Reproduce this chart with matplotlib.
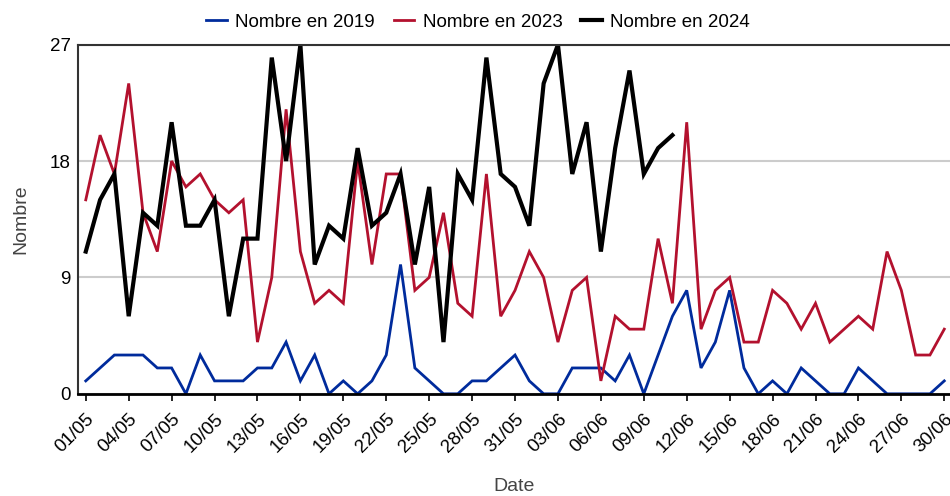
"""Nombre par jour, mai-juin: 2019 / 2023 / 2024"""

import matplotlib.pyplot as plt

# === DATA ===
TICK_LABELS = [
    "01/05", "04/05", "07/05", "10/05", "13/05", "16/05", "19/05", "22/05",
    "25/05", "28/05", "31/05", "03/06", "06/06", "09/06", "12/06", "15/06",
    "18/06", "21/06", "24/06", "27/06", "30/06",
]

NB_2019 = [
    1, 2, 3, 3, 3, 2, 2, 0, 3, 1, 1, 1, 2, 2, 4, 1, 3, 0, 1, 0,
    1, 3, 10, 2, 1, 0, 0, 1, 1, 2, 3, 1, 0, 0, 2, 2, 2, 1, 3, 0,
    3, 6, 8, 2, 4, 8, 2, 0, 1, 0, 2, 1, 0, 0, 2, 1, 0, 0, 0, 0, 1,
]
NB_2023 = [
    15, 20, 17, 24, 14, 11, 18, 16, 17, 15, 14, 15, 4, 9, 22, 11, 7, 8, 7, 18,
    10, 17, 17, 8, 9, 14, 7, 6, 17, 6, 8, 11, 9, 4, 8, 9, 1, 6, 5, 5,
    12, 7, 21, 5, 8, 9, 4, 4, 8, 7, 5, 7, 4, 5, 6, 5, 11, 8, 3, 3, 5,
]
NB_2024 = [
    11, 15, 17, 6, 14, 13, 21, 13, 13, 15, 6, 12, 12, 26, 18, 27, 10, 13, 12, 19,
    13, 14, 17, 10, 16, 4, 17, 15, 26, 17, 16, 13, 24, 27, 17, 21, 11, 19, 25, 17,
    19, 20,
]

SERIES = [
    ("Nombre en 2019", NB_2019, "#002b9c", 2.0),
    ("Nombre en 2023", NB_2023, "#b3112e", 2.0),
    ("Nombre en 2024", NB_2024, "#000000", 3.0),
]

# === PLOT ===
plt.rcParams["font.family"] = ["Liberation Sans", "DejaVu Sans"]

fig = plt.figure(figsize=(9.5, 4.96), dpi=100)
ax = fig.add_axes([0.082, 0.206, 0.918, 0.704])

for label, values, color, lw in SERIES:
    ax.plot(range(len(values)), values, color=color, linewidth=lw, label=label,
            solid_joinstyle="miter")

ax.set_xlim(-0.55, 60.4)
ax.set_ylim(0, 27)
ax.set_yticks([0, 9, 18, 27])
ax.set_xticks(range(0, 61, 3))
ax.set_xticklabels(TICK_LABELS, rotation=45, ha="right", rotation_mode="anchor")
ax.tick_params(axis="x", length=5, width=1.2, color="black", labelsize=13.5, pad=7)
ax.tick_params(axis="y", length=0, labelsize=13.5, pad=5)

ax.grid(axis="y", color="#cccccc", linewidth=1.5)
ax.set_axisbelow(True)
for side in ["top", "left"]:
    ax.spines[side].set_color("#333333")
    ax.spines[side].set_linewidth(1.5)
ax.spines["bottom"].set_color("black")
ax.spines["bottom"].set_linewidth(2)
ax.spines["right"].set_visible(False)

ax.set_xlabel("Date", fontsize=14, color="#444444", labelpad=16)
ax.set_ylabel("Nombre", fontsize=14, color="#444444", labelpad=15)

ax.legend(loc="lower center", bbox_to_anchor=(0.459, 1.0), ncol=3, frameon=False,
          fontsize=13.5, handlelength=1.1, handletextpad=0.45, columnspacing=1.0,
          borderaxespad=0.35)

fig.savefig("out.png", dpi=100)
